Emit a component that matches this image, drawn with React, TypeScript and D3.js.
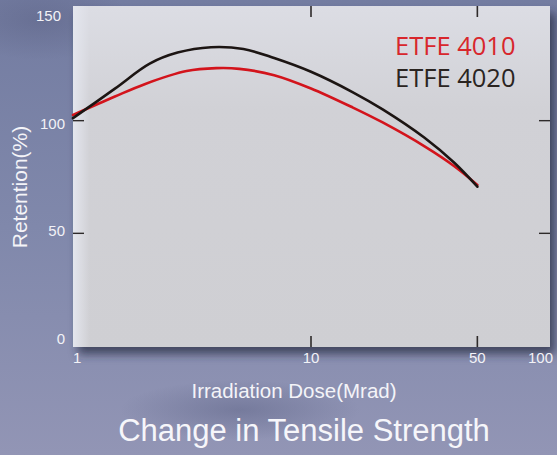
import * as d3 from "d3";

// ETFE 4010 (red)
const doseA = [1, 1.5, 2, 3, 4, 5, 7, 10, 15, 20, 30, 40, 50];
const retA = [102.5, 110.7, 116.2, 122, 123.3, 123, 120.2, 114.3, 105.8, 99.2, 88.6, 79.8, 71.5];
// ETFE 4020 (black)
const doseB = [1, 1.5, 2.1, 2.75, 3.8, 5.2, 7, 10, 15, 20, 30, 40, 50];
const retB = [101.1, 114.2, 125.3, 130.2, 132.6, 131.8, 127.8, 121.7, 112.6, 105, 92.4, 81.3, 70.7];

const xTicks = [1, 10, 50, 100];
const yTicks = [0, 50, 100, 150];
const seriesNames = ["ETFE 4010", "ETFE 4020"];
const seriesColors = ["#d3141c", "#1c1513"];

const W = 557;
const H = 455;
const plot = { left: 73, right: 550, top: 6, bottom: 347 };

export default function App() {
  const x = d3.scaleLog().domain([1, 100]).range([plot.left, 549]);
  const y = d3.scaleLinear().domain([0, 150]).range([346, 8]);
  // tick labels are spread a bit wider than the ticks in the original
  const yLabel = d3.scaleLinear().domain([0, 150]).range([339, 15.5]);

  const line = d3
    .line<[number, number]>()
    .x((d) => x(d[0]))
    .y((d) => y(d[1]))
    .curve(d3.curveCatmullRom.alpha(0.5));

  const series = [
    { name: seriesNames[0], color: seriesColors[0], pts: doseA.map((d, i) => [d, retA[i]] as [number, number]) },
    { name: seriesNames[1], color: seriesColors[1], pts: doseB.map((d, i) => [d, retB[i]] as [number, number]) },
  ];

  const labelFont = "'Liberation Sans', Arial, sans-serif";
  const innerX = xTicks.filter((t) => t > 1 && t < 100);
  const innerY = yTicks.filter((t) => t > 0 && t < 150);

  return (
    <svg width={W} height={H} style={{ position: "absolute", left: 0, top: 0 }}>
      <defs>
        <linearGradient id="bg" x1="0" y1="0" x2="0" y2="1">
          <stop offset="0" stopColor="#737ca1" />
          <stop offset="0.5" stopColor="#8088ab" />
          <stop offset="1" stopColor="#9295b5" />
        </linearGradient>
        <radialGradient id="blot" cx="0.5" cy="0.5" r="0.5">
          <stop offset="0" stopColor="#5d6386" stopOpacity="0.5" />
          <stop offset="1" stopColor="#5d6386" stopOpacity="0" />
        </radialGradient>
        <linearGradient id="plotV" x1="0" y1="0" x2="0" y2="1">
          <stop offset="0" stopColor="#dcdde4" />
          <stop offset="0.3" stopColor="#d1d1d6" />
          <stop offset="1" stopColor="#cfcfd3" />
        </linearGradient>
        <linearGradient id="plotH" x1="0" y1="0" x2="1" y2="0">
          <stop offset="0" stopColor="#e4e6ee" stopOpacity="1" />
          <stop offset="0.035" stopColor="#e4e6ee" stopOpacity="0" />
        </linearGradient>
        <filter id="shadow" x="-10%" y="-10%" width="130%" height="130%">
          <feDropShadow dx="5" dy="7" stdDeviation="5" floodColor="#2b2e45" floodOpacity="0.75" />
        </filter>
      </defs>

      <rect width={W} height={H} fill="url(#bg)" />
      <ellipse cx={40} cy={20} rx={90} ry={40} fill="url(#blot)" />
      <ellipse cx={240} cy={410} rx={120} ry={30} fill="url(#blot)" />

      <rect
        x={plot.left}
        y={plot.top}
        width={plot.right - plot.left}
        height={plot.bottom - plot.top}
        fill="url(#plotV)"
        filter="url(#shadow)"
      />
      <rect
        x={plot.left}
        y={plot.top}
        width={plot.right - plot.left}
        height={plot.bottom - plot.top}
        fill="url(#plotH)"
      />

      {innerX.map((t) => (
        <g key={"xt" + t} stroke="#2e2a2a" strokeWidth={1.6}>
          <line x1={x(t)} x2={x(t)} y1={plot.bottom} y2={plot.bottom - 11} />
          <line x1={x(t)} x2={x(t)} y1={plot.top} y2={plot.top + 11} />
        </g>
      ))}
      {innerY.map((t) => (
        <g key={"yt" + t} stroke="#2e2a2a" strokeWidth={1.4}>
          <line x1={plot.left} x2={plot.left + 11} y1={y(t)} y2={y(t)} />
          <line x1={plot.right} x2={plot.right - 11} y1={y(t)} y2={y(t)} />
        </g>
      ))}

      {series.map((s) => (
        <path key={s.name} d={line(s.pts) || ""} fill="none" stroke={s.color} strokeWidth={2.6} strokeLinecap="round" />
      ))}

      {yTicks.map((t) => (
        <text
          key={"yl" + t}
          x={t === 150 ? 61 : 65}
          y={yLabel(t)}
          dy="0.35em"
          textAnchor="end"
          fontFamily={labelFont}
          fontSize={15}
          fill="#f2f2f7"
        >
          {t}
        </text>
      ))}
      {xTicks.map((t, i) => (
        <text
          key={"xl" + t}
          x={i === xTicks.length - 1 ? x(t) + 4 : x(t)}
          y={363}
          textAnchor={i === 0 ? "start" : i === xTicks.length - 1 ? "end" : "middle"}
          fontFamily={labelFont}
          fontSize={15}
          fill="#f2f2f7"
        >
          {t}
        </text>
      ))}

      <text x={294} y={398} textAnchor="middle" fontFamily={labelFont} fontSize={20.5} fill="#f4f4f8">
        Irradiation Dose(Mrad)
      </text>
      <text
        transform={`translate(27,${(y(0) + y(150)) / 2 + 10}) rotate(-90)`}
        textAnchor="middle"
        fontFamily={labelFont}
        fontSize={21}
        fill="#f4f4f8"
      >
        Retention(%)
      </text>
      <text x={304} y={441} textAnchor="middle" fontFamily={labelFont} fontSize={31} fill="#f6f6fa">
        Change in Tensile Strength
      </text>

      {series.map((s, i) => (
        <text
          key={"lg" + s.name}
          x={395}
          y={55 + i * 32}
          fontFamily="'Open Sans', 'Noto Sans', sans-serif"
          fontSize={25.5}
          fill={i === 0 ? "#d8262c" : "#2a2421"}
        >
          {s.name}
        </text>
      ))}
    </svg>
  );
}
